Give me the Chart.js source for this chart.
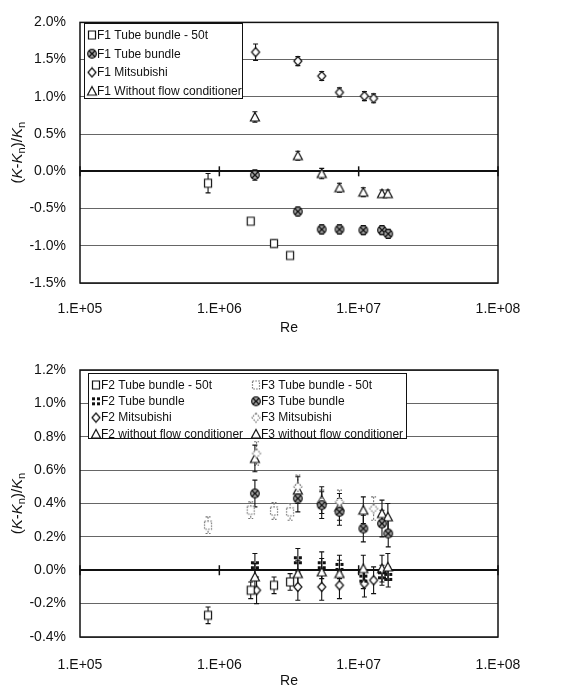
<!DOCTYPE html>
<html>
<head>
<meta charset="utf-8">
<script src="https://cdn.jsdelivr.net/npm/chart.js@4.4.1/dist/chart.umd.min.js"></script>
<style>
  body { margin: 0; background: #fff; }
  canvas { display: block; }
</style>
</head>
<body>
<canvas id="chartF1" width="561" height="340"></canvas>
<canvas id="chartF23" width="561" height="348"></canvas>
<script>
// x axis (Re), decades only
const reTicks = [1e5, 1e6, 1e7, 1e8];
const reTickLabels = ['1.E+05', '1.E+06', '1.E+07', '1.E+08'];

// ---- top chart: F1 ----
const reF1Bundle50t = [8.3e5, 1.68e6, 2.47e6, 3.22e6];
const kF1Bundle50t = [-0.16, -0.67, -0.97, -1.13];
const errF1Bundle50t = [0.13, 0.03, 0.05, 0.02];

const reF1Bundle = [1.8e6, 3.66e6, 5.43e6, 7.28e6, 1.08e7, 1.47e7, 1.63e7];
const kF1Bundle = [-0.05, -0.54, -0.78, -0.78, -0.79, -0.79, -0.84];
const errF1Bundle = [0.07, 0.06, 0.06, 0.06, 0.06, 0.06, 0.06];

const reF1Mitsubishi = [1.82e6, 3.66e6, 5.43e6, 7.28e6, 1.1e7, 1.28e7];
const kF1Mitsubishi = [1.60, 1.48, 1.28, 1.06, 1.01, 0.98];
const errF1Mitsubishi = [0.11, 0.06, 0.06, 0.06, 0.06, 0.06];

const reF1NoCond = [1.8e6, 3.66e6, 5.43e6, 7.28e6, 1.08e7, 1.47e7, 1.62e7];
const kF1NoCond = [0.73, 0.21, -0.03, -0.22, -0.28, -0.30, -0.30];
const errF1NoCond = [0.07, 0.06, 0.07, 0.06, 0.06, 0.05, 0.05];

const yTicksF1 = [-1.5, -1.0, -0.5, 0.0, 0.5, 1.0, 1.5, 2.0];

// ---- bottom chart: F2 / F3 ----
const reF2Bundle50t = [8.3e5, 1.68e6, 2.47e6, 3.22e6];
const kF2Bundle50t = [-0.27, -0.12, -0.09, -0.07];
const errF2Bundle50t = [0.05, 0.05, 0.05, 0.05];

const reF2Bundle = [1.8e6, 3.66e6, 5.43e6, 7.28e6, 1.08e7, 1.47e7, 1.63e7];
const kF2Bundle = [0.03, 0.06, 0.03, 0.02, -0.05, -0.03, -0.04];
const errF2Bundle = [0.07, 0.07, 0.08, 0.07, 0.06, 0.06, 0.06];

const reF2Mitsubishi = [1.85e6, 3.66e6, 5.43e6, 7.28e6, 1.1e7, 1.28e7];
const kF2Mitsubishi = [-0.12, -0.10, -0.10, -0.09, -0.08, -0.06];
const errF2Mitsubishi = [0.08, 0.08, 0.08, 0.08, 0.08, 0.08];

const reF2NoCond = [1.8e6, 3.66e6, 5.43e6, 7.28e6, 1.08e7, 1.47e7, 1.62e7];
const kF2NoCond = [-0.04, -0.02, -0.01, -0.02, 0.01, 0.01, 0.02];
const errF2NoCond = [0.08, 0.08, 0.08, 0.08, 0.08, 0.08, 0.08];

const reF3Bundle50t = [8.3e5, 1.68e6, 2.47e6, 3.22e6];
const kF3Bundle50t = [0.27, 0.36, 0.355, 0.35];
const errF3Bundle50t = [0.05, 0.05, 0.05, 0.05];

const reF3Bundle = [1.8e6, 3.66e6, 5.43e6, 7.28e6, 1.08e7, 1.47e7, 1.63e7];
const kF3Bundle = [0.46, 0.43, 0.39, 0.35, 0.25, 0.28, 0.22];
const errF3Bundle = [0.08, 0.08, 0.08, 0.08, 0.08, 0.08, 0.08];

const reF3Mitsubishi = [1.85e6, 3.66e6, 5.43e6, 7.28e6, 1.28e7];
const kF3Mitsubishi = [0.70, 0.50, 0.41, 0.41, 0.37];
const errF3Mitsubishi = [0.07, 0.07, 0.07, 0.07, 0.07];

const reF3NoCond = [1.8e6, 3.66e6, 5.43e6, 7.28e6, 1.08e7, 1.47e7, 1.62e7];
const kF3NoCond = [0.67, 0.48, 0.42, 0.38, 0.36, 0.34, 0.32];
const errF3NoCond = [0.08, 0.08, 0.08, 0.08, 0.08, 0.08, 0.08];

const yTicksF23 = [-0.4, -0.2, 0.0, 0.2, 0.4, 0.6, 0.8, 1.0, 1.2];

const FONT = 'Arial, "Liberation Sans", sans-serif';

// small canvases used as point markers (and in the legends)
function makeSymbol(kind, color, dashed) {
  const c = document.createElement('canvas');
  c.width = 12; c.height = 12;
  const g = c.getContext('2d');
  g.translate(6, 6);
  g.lineWidth = 1.2;
  g.strokeStyle = color;
  g.fillStyle = '#fff';
  if (dashed) g.setLineDash([1.6, 1.2]);
  g.beginPath();
  if (kind === 'square') {
    g.rect(-3.5, -4, 7, 8);
  } else if (kind === 'diamond') {
    g.moveTo(0, -4.5); g.lineTo(4, 0); g.lineTo(0, 4.5); g.lineTo(-4, 0); g.closePath();
  } else if (kind === 'triangle') {
    g.moveTo(0, -4.5); g.lineTo(4.5, 4); g.lineTo(-4.5, 4); g.closePath();
  } else if (kind === 'xcircle') {
    g.arc(0, 0, 4.3, 0, Math.PI * 2);
    g.fillStyle = '#aaa';
  }
  if (kind !== 'dots') { g.fill(); g.stroke(); }
  if (kind === 'xcircle') {
    g.beginPath();
    g.moveTo(-3, -3); g.lineTo(3, 3); g.moveTo(3, -3); g.lineTo(-3, 3);
    g.lineWidth = 1.4; g.strokeStyle = '#111'; g.stroke();
  }
  if (kind === 'dots') {
    g.fillStyle = color;
    g.fillRect(-4, -4, 3, 3); g.fillRect(1, -4, 3, 3);
    g.fillRect(-4, 1, 3, 3); g.fillRect(1, 1, 3, 3);
  }
  return c;
}

function series(label, re, k, err, sym, barColor, dashed) {
  return {
    label: label,
    data: re.map((x, i) => ({ x: x, y: k[i] })),
    err: err,
    barColor: barColor || '#111',
    barDashed: !!dashed,
    pointStyle: sym,
    pointRadius: 5,
    showLine: false
  };
}

// error bars, drawn under the markers
const errorBars = {
  id: 'errorBars',
  beforeDatasetsDraw(chart) {
    const ctx = chart.ctx;
    const yScale = chart.scales.y;
    chart.data.datasets.forEach((ds, di) => {
      const meta = chart.getDatasetMeta(di);
      ctx.save();
      ctx.strokeStyle = ds.barColor;
      ctx.lineWidth = 1.1;
      if (ds.barDashed) ctx.setLineDash([2, 1.5]);
      meta.data.forEach((pt, i) => {
        const v = ds.data[i].y;
        const e = ds.err[i];
        const yTop = yScale.getPixelForValue(v + e);
        const yBot = yScale.getPixelForValue(v - e);
        ctx.beginPath();
        ctx.moveTo(pt.x, yTop); ctx.lineTo(pt.x, yBot);
        ctx.moveTo(pt.x - 2.5, yTop); ctx.lineTo(pt.x + 2.5, yTop);
        ctx.moveTo(pt.x - 2.5, yBot); ctx.lineTo(pt.x + 2.5, yBot);
        ctx.stroke();
      });
      ctx.restore();
    });
  }
};

// frame, tick marks on the zero line, y title and boxed legend
const decorations = {
  id: 'decorations',
  afterDraw(chart, args, opts) {
    const ctx = chart.ctx;
    const a = chart.chartArea;
    const xScale = chart.scales.x;
    const y0 = chart.scales.y.getPixelForValue(0);

    ctx.save();
    ctx.strokeStyle = '#111';
    ctx.lineWidth = 1.5;
    reTicks.forEach(v => {
      const px = xScale.getPixelForValue(v);
      ctx.beginPath(); ctx.moveTo(px, y0 - 5); ctx.lineTo(px, y0 + 5); ctx.stroke();
    });
    ctx.strokeRect(a.left, a.top, a.right - a.left, a.bottom - a.top);
    ctx.restore();

    // y title: (K-Kn)/Kn with italic K and subscript n
    const parts = [['(', 'n'], ['K', 'i'], ['-', 'n'], ['K', 'i'], ['n', 's'], [')/', 'n'], ['K', 'i'], ['n', 's']];
    const fontOf = t => t === 'i' ? 'italic 15px ' + FONT : (t === 's' ? '11px ' + FONT : '15px ' + FONT);
    ctx.save();
    ctx.translate(18, (a.top + a.bottom) / 2);
    ctx.rotate(-Math.PI / 2);
    ctx.fillStyle = '#111';
    ctx.textBaseline = 'middle';
    let total = 0;
    parts.forEach(p => { ctx.font = fontOf(p[1]); total += ctx.measureText(p[0]).width; });
    let x = -total / 2;
    parts.forEach(p => {
      ctx.font = fontOf(p[1]);
      ctx.fillText(p[0], x, p[1] === 's' ? 4 : 0);
      x += ctx.measureText(p[0]).width;
    });
    ctx.restore();

    // legend box
    const L = opts.legend;
    ctx.save();
    ctx.fillStyle = '#fff';
    ctx.fillRect(L.x, L.y, L.w, L.h);
    ctx.strokeStyle = '#111';
    ctx.lineWidth = 1;
    ctx.strokeRect(L.x + 0.5, L.y + 0.5, L.w, L.h);
    ctx.font = '12px ' + FONT;
    ctx.fillStyle = '#111';
    ctx.textBaseline = 'middle';
    chart.data.datasets.forEach((ds, i) => {
      const col = Math.floor(i / L.rows);
      const row = i % L.rows;
      const sx = L.x + 8 + col * L.colW;
      const sy = L.y + 12 + row * L.rowH;
      ctx.drawImage(ds.pointStyle, sx - 6, sy - 6);
      ctx.fillText(ds.label, sx + 5, sy + 0.5);
    });
    ctx.restore();
  }
};

function makeChart(id, datasets, yMin, yMax, yTicks, padTop, xHeight, xPad, titlePad, legend) {
  return new Chart(document.getElementById(id), {
    type: 'scatter',
    data: { datasets: datasets },
    plugins: [errorBars, decorations],
    options: {
      responsive: false,
      animation: false,
      layout: { padding: { top: padTop, right: 63, left: 0, bottom: 0 } },
      plugins: {
        legend: { display: false },
        tooltip: { enabled: false },
        decorations: { legend: legend }
      },
      scales: {
        x: {
          type: 'logarithmic',
          min: 1e5,
          max: 1e8,
          afterBuildTicks: s => { s.ticks = reTicks.map(v => ({ value: v })); },
          afterFit: s => { s.height = xHeight; },
          grid: { display: false },
          border: { display: false },
          ticks: {
            autoSkip: false,
            maxRotation: 0,
            padding: xPad,
            color: '#111',
            font: { family: FONT, size: 14 },
            callback: (v, i) => reTickLabels[i]
          },
          title: {
            display: true,
            text: 'Re',
            color: '#111',
            padding: { top: 0, bottom: titlePad },
            font: { family: FONT, size: 14, lineHeight: 1 }
          }
        },
        y: {
          min: yMin,
          max: yMax,
          afterBuildTicks: s => { s.ticks = yTicks.map(v => ({ value: v })); },
          afterFit: s => { s.width = 80; },
          border: { display: false },
          grid: {
            drawTicks: false,
            color: c => c.tick && Math.abs(c.tick.value) < 1e-9 ? '#111' : '#666',
            lineWidth: c => c.tick && Math.abs(c.tick.value) < 1e-9 ? 2 : 1
          },
          ticks: {
            padding: 14,
            color: '#111',
            font: { family: FONT, size: 14 },
            callback: v => v.toFixed(1) + '%'
          }
        }
      }
    }
  });
}

const sqr = makeSymbol('square', '#111');
const sqrDash = makeSymbol('square', '#777', true);
const xcirc = makeSymbol('xcircle', '#111');
const dots = makeSymbol('dots', '#111');
const dia = makeSymbol('diamond', '#111');
const diaDash = makeSymbol('diamond', '#777', true);
const tri = makeSymbol('triangle', '#111');

makeChart('chartF1', [
  series('F1 Tube bundle - 50t', reF1Bundle50t, kF1Bundle50t, errF1Bundle50t, sqr),
  series('F1 Tube bundle', reF1Bundle, kF1Bundle, errF1Bundle, xcirc),
  series('F1 Mitsubishi', reF1Mitsubishi, kF1Mitsubishi, errF1Mitsubishi, dia),
  series('F1 Without flow conditioner', reF1NoCond, kF1NoCond, errF1NoCond, tri)
], -1.5, 2.0, yTicksF1, 16, 57, 10, 5,
  { x: 84, y: 23, w: 158, h: 75, rows: 4, rowH: 18.7, colW: 0 });

makeChart('chartF23', [
  series('F2 Tube bundle - 50t', reF2Bundle50t, kF2Bundle50t, errF2Bundle50t, sqr),
  series('F2 Tube bundle', reF2Bundle, kF2Bundle, errF2Bundle, dots),
  series('F2 Mitsubishi', reF2Mitsubishi, kF2Mitsubishi, errF2Mitsubishi, dia),
  series('F2 without flow conditioner', reF2NoCond, kF2NoCond, errF2NoCond, tri),
  series('F3 Tube bundle - 50t', reF3Bundle50t, kF3Bundle50t, errF3Bundle50t, sqrDash, '#777', true),
  series('F3 Tube bundle', reF3Bundle, kF3Bundle, errF3Bundle, xcirc),
  series('F3 Mitsubishi', reF3Mitsubishi, kF3Mitsubishi, errF3Mitsubishi, diaDash, '#777', true),
  series('F3 without flow conditioner', reF3NoCond, kF3NoCond, errF3NoCond, tri)
], -0.4, 1.2, yTicksF23, 30, 51, 12, 0,
  { x: 88, y: 33, w: 318, h: 65, rows: 4, rowH: 16.3, colW: 160 });
</script>
</body>
</html>
